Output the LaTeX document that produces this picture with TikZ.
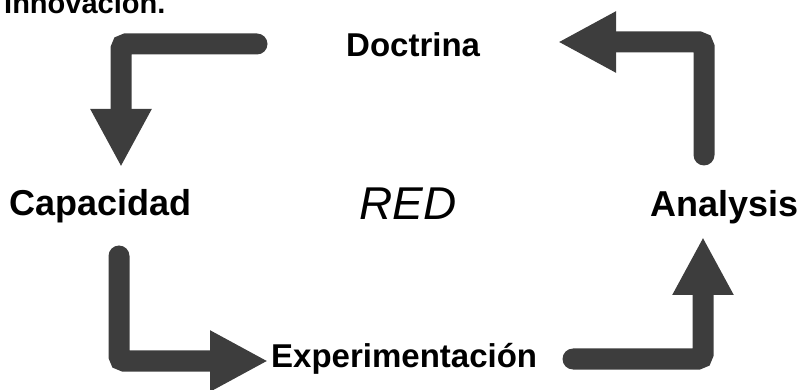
\documentclass[tikz,border=0pt]{standalone}
\usepackage{fontspec}
\setmainfont{Liberation Sans}
\usetikzlibrary{arrows.meta}
\definecolor{arrowgray}{HTML}{3D3D3D}

\begin{document}
\begin{tikzpicture}[x=1pt, y=-1pt,
    termtext/.style={font=\bfseries\fontsize{#1}{#1}\selectfont, inner sep=0pt, anchor=base west},
    bigarrow/.style={draw=arrowgray, line width=21pt, line cap=round, rounded corners=5pt,
      -{Triangle[length=58pt, width=57pt]}}]
      \useasboundingbox (0,0) rectangle (804,390);

      \node[termtext=29] (innov) at (4,14) {Innovación.};
      \node[termtext=33] (doctrina) at (346,57) {Doctrina};
      \node[termtext=36] (capacidad) at (9,216) {Capacidad};
      \node[font=\itshape\fontsize{46}{46}\selectfont, inner sep=0pt, anchor=base west] (red) at (359,220) {RED};
      \node[termtext=36] (analysis) at (650,217) {Analysis};
      \node[termtext=33] (experim) at (271,367) {Experimentación};

      \coordinate (doc-out) at (257,44);
      \coordinate (cap-in) at (121,167);
      \coordinate (cap-out) at (119,256);
      \coordinate (exp-in) at (268,361);
      \coordinate (exp-out) at (573,359);
      \coordinate (ana-in) at (703,237);
      \coordinate (ana-out) at (704,155);
      \coordinate (doc-in) at (558,42);

      \draw[bigarrow] (doc-out) -| (cap-in);
      \draw[bigarrow] (cap-out) |- (exp-in);
      \draw[bigarrow] (exp-out) -| (ana-in);
      \draw[bigarrow] (ana-out) |- (doc-in);
    \end{tikzpicture}
\end{document}
